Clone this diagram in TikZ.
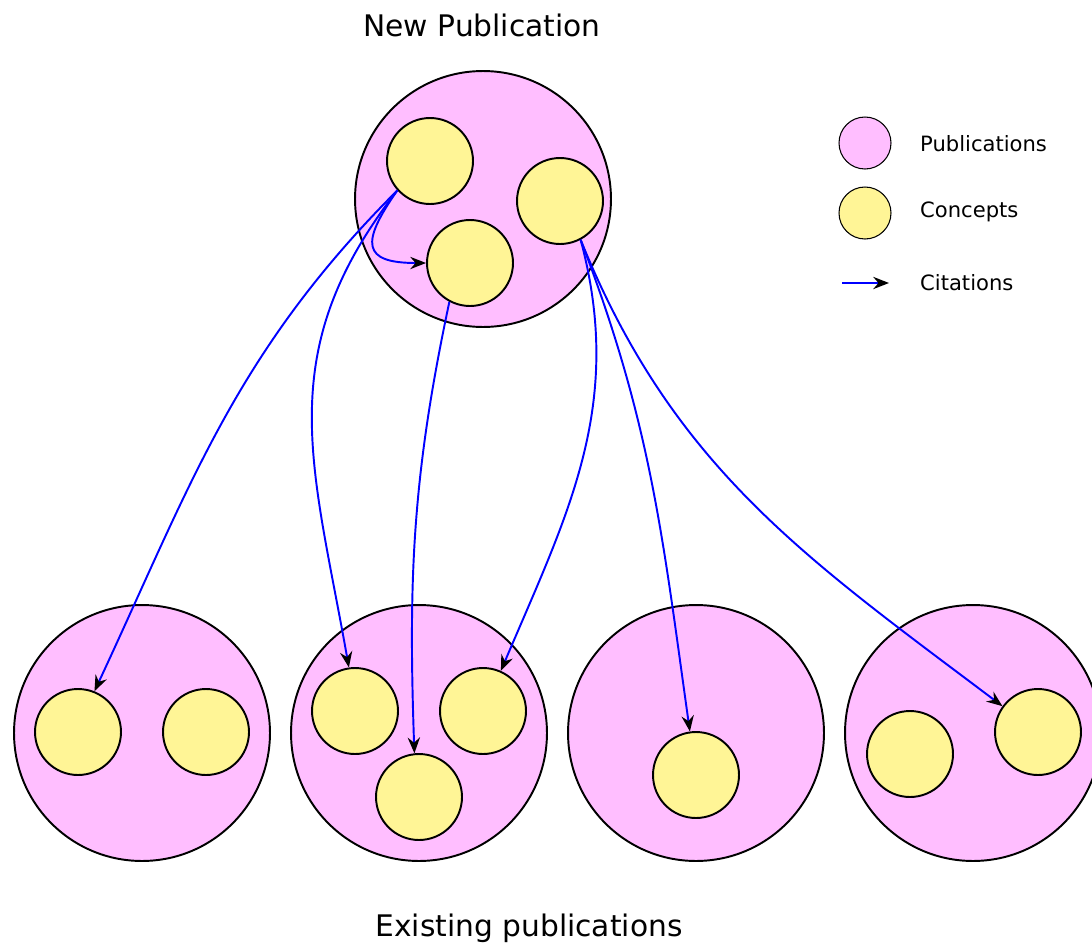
\documentclass[tikz,border=0pt]{standalone}
\usepackage{fontspec}
\setmainfont{DejaVu Sans}
\usetikzlibrary{arrows.meta,positioning}
\definecolor{pubpink}{RGB}{255,190,255}
\definecolor{conceptyellow}{RGB}{255,245,150}
\definecolor{citeblue}{RGB}{0,0,255}

\begin{document}
\begin{tikzpicture}[x=0.02cm, y=0.02cm,
        pub/.style={circle, draw, line width=1.1pt, fill=pubpink, minimum size=5.12cm, inner sep=0pt},
        concept/.style={circle, draw, line width=1.1pt, fill=conceptyellow, minimum size=1.72cm, inner sep=0pt},
        legcircle/.style={circle, draw, line width=0.6pt, minimum size=1.04cm, inner sep=0pt},
        cite/.style={-{Stealth[black, length=9pt, width=7pt, inset=3pt]}, citeblue, line width=1.1pt},
        heading/.style={font=\fontsize{16.9}{20}\selectfont},
        legtext/.style={anchor=west, font=\fontsize{12}{14}\selectfont}]

      \useasboundingbox (0,0) rectangle (1092,-943);
      \clip (0,0) rectangle (1092,-943);

      % publications
      \node[pub] (pubNew) at (483,-199) {};
      \node[pub] (pubA) at (142,-733) {};
      \node[pub] (pubB) at (419,-733) {};
      \node[pub] (pubC) at (696,-733) {};
      \node[pub] (pubD) at (973,-733) {};

      % concepts
      \node[concept] (cN1) at (430,-161) {};
      \node[concept] (cN2) at (560,-201) {};
      \node[concept] (cN3) at (470,-263) {};
      \node[concept] (cA1) at (78,-732) {};
      \node[concept] (cA2) at (206,-732) {};
      \node[concept] (cB1) at (355,-711) {};
      \node[concept] (cB2) at (483,-711) {};
      \node[concept] (cB3) at (419,-797) {};
      \node[concept] (cC1) at (696,-775) {};
      \node[concept] (cD1) at (910,-754) {};
      \node[concept] (cD2) at (1038,-732) {};

      % citations
      \draw[cite] (cN1.222) to[out=225, in=65] (cA1.68);
      \draw[cite] (cN1.222) to[out=232, in=100, looseness=1.1] (cB1.98);
      \draw[cite] (cN1.222) to[out=235, in=180, looseness=2.1] (cN3.west);
      \draw[cite] (cN3.242) to[out=258, in=92] (cB3.96);
      \draw[cite] (cN2.298) to[out=285, in=67] (cB2.66);
      \draw[cite] (cN2.298) to[out=291, in=98] (cC1.98);
      \draw[cite] (cN2.298) to[out=292, in=143] (cD2.144);

      % titles
      \node[heading] (title) at (482,-25) {New Publication};
      \node[heading] (existing) at (529,-928) {Existing publications};

      % legend
      \node[legcircle, fill=pubpink] (legPub) at (865,-143) {};
      \node[legcircle, fill=conceptyellow] (legConcept) at (865,-213) {};
      \coordinate (legFrom) at (842,-283);
      \coordinate (legTo) at (889,-283);
      \draw[cite] (legFrom) -- (legTo);
      \node[legtext] (legPubText) at (914,-144) {Publications};
      \node[legtext] (legConceptText) at (914,-212) {Concepts};
      \node[legtext] (legCiteText) at (914,-283) {Citations};
    \end{tikzpicture}
\end{document}
